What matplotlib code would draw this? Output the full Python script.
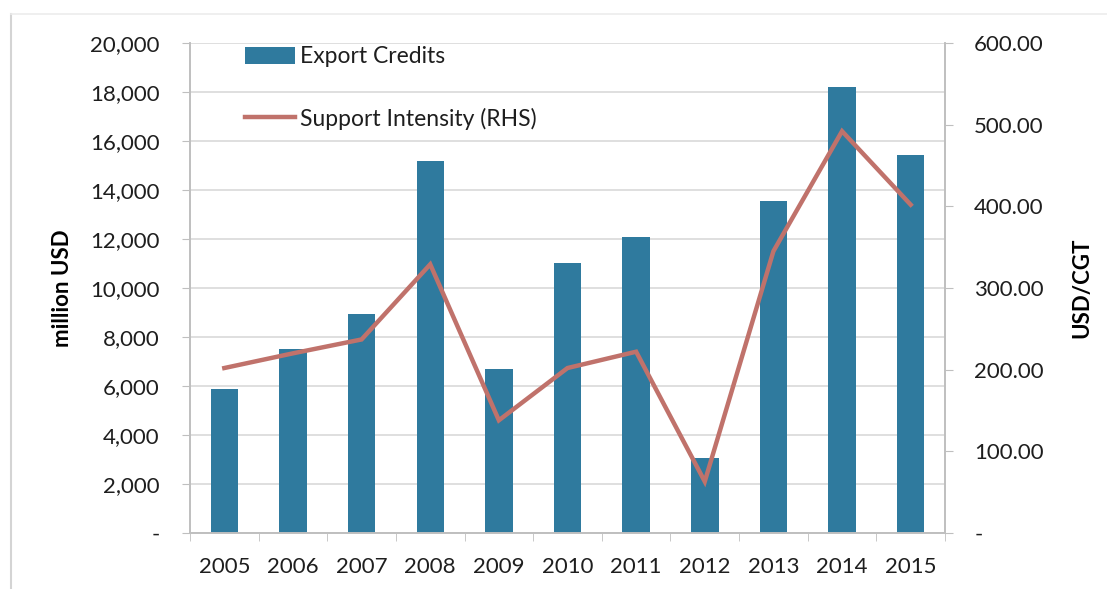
import matplotlib.pyplot as plt
from matplotlib.lines import Line2D
from matplotlib.ticker import FuncFormatter, FixedLocator

years = ["2005", "2006", "2007", "2008", "2009", "2010", "2011", "2012", "2013", "2014", "2015"]
export_credits = [5870, 7490, 8940, 15180, 6680, 11020, 12080, 3050, 13550, 18200, 15410]
support_intensity = [202, 220, 237, 329, 138, 202, 222, 63, 345, 492, 402]

BAR_COLOR = "#2f7a9e"
LINE_COLOR = "#c0726b"
AXIS_GRAY = "#bfbfbf"
TEXT_SIZE = 16

plt.rcParams["font.family"] = ["Lato", "DejaVu Sans"]
plt.rcParams["text.color"] = "#1e1e1e"
plt.rcParams["xtick.color"] = "#1e1e1e"
plt.rcParams["ytick.color"] = "#1e1e1e"


def left_fmt(v, _):
    return "-" if v == 0 else f"{v:,.0f}"


def right_fmt(v, _):
    return "-" if v == 0 else f"{v:.2f}"


fig = plt.figure(figsize=(11.07, 5.89), dpi=100)
ax = fig.add_axes([190 / 1107, 1 - 533 / 589, 755 / 1107, 490 / 589])
ax2 = ax.twinx()

x = list(range(len(years)))
bars = ax.bar(x, export_credits, width=0.4, color=BAR_COLOR, zorder=2, label="Export Credits")
line, = ax2.plot(x, support_intensity, color=LINE_COLOR, linewidth=3.2,
                 solid_joinstyle="miter", label="Support Intensity (RHS)")

ax.set_xlim(-0.5, len(years) - 0.5)
ax.set_ylim(0, 20000)
ax2.set_ylim(0, 600)
ax.set_yticks(range(0, 20001, 2000))
ax2.set_yticks(range(0, 601, 100))
ax.yaxis.set_major_formatter(FuncFormatter(left_fmt))
ax2.yaxis.set_major_formatter(FuncFormatter(right_fmt))

ax.set_xticks(x)
ax.set_xticklabels(years)
ax.xaxis.set_minor_locator(FixedLocator([i - 0.5 for i in range(len(years) + 1)]))
ax.tick_params(axis="x", which="major", length=0, pad=17, labelsize=TEXT_SIZE)
ax.tick_params(axis="x", which="minor", length=6, color=AXIS_GRAY, direction="out")
ax.tick_params(axis="y", length=6, color=AXIS_GRAY, labelsize=TEXT_SIZE, pad=16)
ax2.tick_params(axis="y", length=6, color=AXIS_GRAY, labelsize=TEXT_SIZE, pad=15)

ax.grid(axis="y", color="#d9d9d9", linewidth=1.2, zorder=0)
ax.set_axisbelow(True)

for a in (ax, ax2):
    a.spines["top"].set_visible(False)
    for side in ("left", "right", "bottom"):
        a.spines[side].set_color(AXIS_GRAY)
        a.spines[side].set_linewidth(1.2)

ax.set_ylabel("million USD", fontsize=TEXT_SIZE, fontweight="bold", labelpad=12)
ax2.set_ylabel("USD/CGT", fontsize=TEXT_SIZE, fontweight="bold", labelpad=20)

ax.legend(handles=[bars, line], loc="upper left", bbox_to_anchor=(0.045, 1.035),
          frameon=False, fontsize=16.5, handlelength=2.2, handleheight=0.75,
          handletextpad=0.2, labelspacing=1.75)

# faint chart-area edge on the left and top
fig.lines.append(Line2D([11 / 1107, 11 / 1107], [0, 1 - 14 / 589], transform=fig.transFigure,
                        color="#d4d4d4", linewidth=1.5))
fig.lines.append(Line2D([11 / 1107, 1], [1 - 14 / 589, 1 - 14 / 589], transform=fig.transFigure,
                        color="#ececec", linewidth=1.2))

fig.savefig("out.png", dpi=100)
